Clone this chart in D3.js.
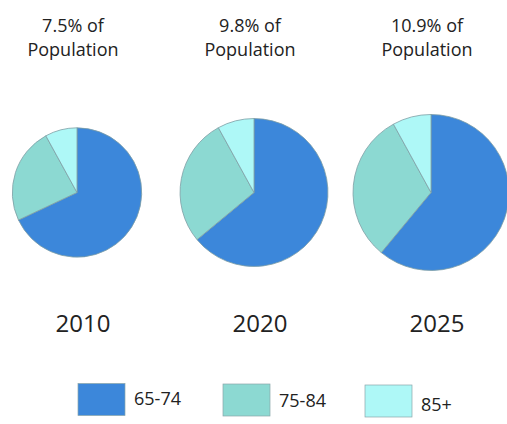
<!DOCTYPE html>
<html>
<head>
<meta charset="utf-8">
<script src="https://cdn.jsdelivr.net/npm/d3@7"></script>
<style>
  html, body { margin: 0; padding: 0; background: #fff; }
  svg { display: block; }
  text { font-family: "Open Sans", sans-serif; fill: #222; }
</style>
</head>
<body>
<svg id="chart" width="507" height="424"></svg>
<script>
// Data
const years = ["2010", "2020", "2025"];
const populationPct = [7.5, 9.8, 10.9];
const ageGroups = ["65-74", "75-84", "85+"];
const share6574 = [68, 64, 61];
const share7584 = [24, 28, 31];
const share85 = [8, 8, 8];
const colors = ["#3c87da", "#8cd9d2", "#aef8f7"];

const svg = d3.select("#chart");

const x = d3.scalePoint().domain(years).range([77, 431]);
const r = d3.scaleSqrt().domain([0, 10.9]).range([0, 78]);
const color = d3.scaleOrdinal().domain(ageGroups).range(colors);
const pie = d3.pie().sort(null).value(d => d.value);
const cy = 192.5;

years.forEach((yr, i) => {
  const cx = x(yr);
  const data = [
    { key: ageGroups[0], value: share6574[i] },
    { key: ageGroups[1], value: share7584[i] },
    { key: ageGroups[2], value: share85[i] }
  ];
  const arc = d3.arc().innerRadius(0).outerRadius(r(populationPct[i]));
  const g = svg.append("g").attr("transform", `translate(${cx},${cy})`);
  g.selectAll("path").data(pie(data)).join("path")
    .attr("d", arc)
    .attr("fill", d => color(d.data.key))
    .attr("stroke", "#7f9ea4")
    .attr("stroke-width", 0.8);

  // title
  const t = svg.append("text")
    .attr("text-anchor", "middle")
    .attr("font-size", 18);
  t.append("tspan").attr("x", cx - 4).attr("y", 32).text(populationPct[i] + "% of");
  t.append("tspan").attr("x", cx - 4).attr("y", 56).text("Population");

  // year
  svg.append("text")
    .attr("x", cx + 6).attr("y", 332)
    .attr("text-anchor", "middle")
    .attr("font-size", 24)
    .text(yr);
});

// Legend
const legendX = [78, 223, 365];
const legendY = [383.5, 384, 385];
const legendTextY = [405, 407, 411];
ageGroups.forEach((k, i) => {
  svg.append("rect")
    .attr("x", legendX[i]).attr("y", legendY[i])
    .attr("width", 47).attr("height", 32)
    .attr("fill", color(k))
    .attr("stroke", "#8aa5aa").attr("stroke-width", 0.7);
  svg.append("text")
    .attr("x", legendX[i] + 56).attr("y", legendTextY[i])
    .attr("font-size", 18)
    .text(k);
});
</script>
</body>
</html>
